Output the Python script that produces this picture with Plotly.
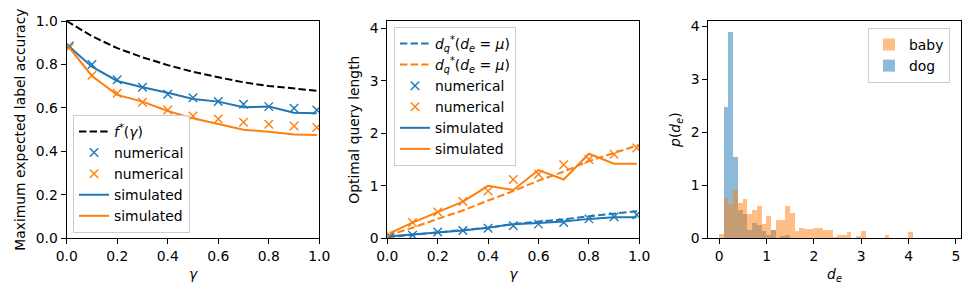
import numpy as np
import plotly.graph_objects as go

BLUE = "#1f77b4"
ORANGE = "#ff7f0e"

# ---------------- Panel 1 data ----------------
gamma_pts = [0.01, 0.1, 0.2, 0.3, 0.4, 0.5, 0.6, 0.7, 0.8, 0.9, 0.99]
gamma_curve = [0.0, 0.1, 0.2, 0.3, 0.4, 0.5, 0.6, 0.7, 0.8, 0.9, 1.0]
f_star = [1.0, 0.93, 0.875, 0.833, 0.797, 0.766, 0.741, 0.718, 0.701, 0.689, 0.678]
acc_num_dog = [0.885, 0.80, 0.73, 0.695, 0.663, 0.647, 0.63, 0.617, 0.606, 0.598, 0.59]
acc_num_baby = [0.877, 0.75, 0.667, 0.626, 0.59, 0.563, 0.549, 0.534, 0.525, 0.517, 0.51]
acc_sim_dog = [0.882, 0.79, 0.724, 0.695, 0.67, 0.641, 0.629, 0.603, 0.606, 0.578, 0.575]
acc_sim_baby = [0.877, 0.747, 0.66, 0.629, 0.586, 0.552, 0.526, 0.50, 0.49, 0.478, 0.475]

# ---------------- Panel 2 data ----------------
dq_theory_dog = [0.02, 0.07, 0.12, 0.16, 0.20, 0.27, 0.32, 0.36, 0.42, 0.47, 0.52]
dq_theory_baby = [0.05, 0.20, 0.37, 0.53, 0.72, 0.90, 1.10, 1.27, 1.47, 1.62, 1.78]
dq_num_dog = [0.03, 0.06, 0.12, 0.15, 0.19, 0.24, 0.27, 0.30, 0.37, 0.41, 0.45]
dq_num_baby = [0.06, 0.30, 0.50, 0.70, 0.90, 1.12, 1.22, 1.40, 1.50, 1.60, 1.72]
dq_sim_dog = [0.04, 0.07, 0.11, 0.15, 0.20, 0.27, 0.29, 0.32, 0.37, 0.40, 0.40]
dq_sim_baby = [0.10, 0.30, 0.50, 0.70, 1.00, 0.92, 1.30, 1.12, 1.61, 1.42, 1.42]

# ---------------- Panel 3 data (histogram densities, bins of width 0.1 from 0) ----------------
hist_bin_start = 0.0
hist_bin_width = 0.1
dens_baby = [0.08, 0.76, 0.65, 0.91, 0.67, 0.74, 0.46, 0.54, 0.61, 0.27,
             0.42, 0.16, 0.35, 0.35, 0.61, 0.47, 0.14, 0.20, 0.18, 0.17,
             0.19, 0.19, 0.15, 0.16, 0.03, 0.06, 0.06, 0.12, 0.0, 0.05,
             0.13, 0.0, 0.0, 0.0, 0.0, 0.06, 0.0, 0.0, 0.0, 0.0, 0.12]
dens_dog = [0.0, 2.47, 3.90, 1.53, 0.53, 0.46, 0.16, 0.28, 0.25, 0.13,
            0.06, 0.16, 0.0, 0.04, 0.06]

def centers(n):
    return hist_bin_start + hist_bin_width * (np.arange(n) + 0.5)

FONT = "DejaVu Sans"
FS = 13.9
LW = 2.0
DASH = "7.4px,3.2px"
fig = go.Figure()

xmark = lambda c: dict(symbol="x-thin", size=8.5, line=dict(color=c, width=1.4), color=c)

# panel 1
fig.add_trace(go.Scatter(x=gamma_curve, y=f_star, mode="lines",
                         line=dict(color="black", dash=DASH, width=LW),
                         name="<i>f</i><sup>*</sup>(<i>γ</i>)", xaxis="x", yaxis="y", legend="legend"))
fig.add_trace(go.Scatter(x=gamma_pts, y=acc_num_dog, mode="markers", marker=xmark(BLUE),
                         name="numerical", xaxis="x", yaxis="y", legend="legend"))
fig.add_trace(go.Scatter(x=gamma_pts, y=acc_num_baby, mode="markers", marker=xmark(ORANGE),
                         name="numerical", xaxis="x", yaxis="y", legend="legend"))
fig.add_trace(go.Scatter(x=gamma_pts, y=acc_sim_dog, mode="lines",
                         line=dict(color=BLUE, width=LW),
                         name="simulated", xaxis="x", yaxis="y", legend="legend"))
fig.add_trace(go.Scatter(x=gamma_pts, y=acc_sim_baby, mode="lines",
                         line=dict(color=ORANGE, width=LW),
                         name="simulated", xaxis="x", yaxis="y", legend="legend"))

# panel 2
dq_label = "<i>d</i><sub><i>q</i></sub><sup>*</sup>(<i>d</i><sub><i>e</i></sub> = <i>μ</i>)"
fig.add_trace(go.Scatter(x=gamma_curve, y=dq_theory_dog, mode="lines",
                         line=dict(color=BLUE, dash=DASH, width=LW),
                         name=dq_label, xaxis="x2", yaxis="y2", legend="legend2"))
fig.add_trace(go.Scatter(x=gamma_curve, y=dq_theory_baby, mode="lines",
                         line=dict(color=ORANGE, dash=DASH, width=LW),
                         name=dq_label, xaxis="x2", yaxis="y2", legend="legend2"))
fig.add_trace(go.Scatter(x=gamma_pts, y=dq_num_dog, mode="markers", marker=xmark(BLUE),
                         name="numerical", xaxis="x2", yaxis="y2", legend="legend2"))
fig.add_trace(go.Scatter(x=gamma_pts, y=dq_num_baby, mode="markers", marker=xmark(ORANGE),
                         name="numerical", xaxis="x2", yaxis="y2", legend="legend2"))
fig.add_trace(go.Scatter(x=gamma_pts, y=dq_sim_dog, mode="lines",
                         line=dict(color=BLUE, width=LW),
                         name="simulated", xaxis="x2", yaxis="y2", legend="legend2"))
fig.add_trace(go.Scatter(x=gamma_pts, y=dq_sim_baby, mode="lines",
                         line=dict(color=ORANGE, width=LW),
                         name="simulated", xaxis="x2", yaxis="y2", legend="legend2"))

# panel 3 (dog drawn first, baby on top; legend lists baby first)
fig.add_trace(go.Bar(x=centers(len(dens_dog)), y=dens_dog, width=hist_bin_width,
                     marker=dict(color=BLUE, line=dict(width=0)), opacity=0.5,
                     name="dog", xaxis="x3", yaxis="y3", legend="legend3", legendrank=2))
fig.add_trace(go.Bar(x=centers(len(dens_baby)), y=dens_baby, width=hist_bin_width,
                     marker=dict(color=ORANGE, line=dict(width=0)), opacity=0.5,
                     name="baby", xaxis="x3", yaxis="y3", legend="legend3", legendrank=1))

# The page body has an 8px margin; work in screen pixels and shift.
OFF = 8
W, H = 975 - OFF, 300 - OFF
def xd(a, b):
    return [(a - OFF) / W, (b - OFF) / W]
def yp(y):
    return (H - (y - OFF)) / H
ydom = [yp(238.3), yp(21)]

axis_common = dict(showline=True, linecolor="black", linewidth=1.1, mirror=True,
                   ticks="outside", ticklen=5, tickwidth=1.1, tickcolor="black",
                   showgrid=False, zeroline=False, automargin=False,
                   tickfont=dict(family=FONT, size=FS, color="black"))
title_font = dict(family=FONT, size=FS, color="black")

legend_common = dict(bgcolor="rgba(255,255,255,0.8)", bordercolor="#cccccc", borderwidth=1,
                     font=dict(family=FONT, size=FS, color="black"),
                     xanchor="left", yanchor="top", tracegroupgap=0, itemwidth=30)

fig.update_layout(
    width=W, height=H, margin=dict(l=0, r=0, t=0, b=0),
    plot_bgcolor="white", paper_bgcolor="white",
    barmode="overlay", bargap=0,
    font=dict(family=FONT, size=FS, color="black"),
    xaxis=dict(domain=xd(66.7, 319.3), range=[0, 1], tickvals=[0, 0.2, 0.4, 0.6, 0.8, 1.0],
               tickformat=".1f", anchor="y",
               title=dict(text="<i>γ</i>", font=title_font, standoff=6), **axis_common),
    yaxis=dict(domain=ydom, range=[0, 1], tickvals=[0, 0.2, 0.4, 0.6, 0.8, 1.0], tickformat=".1f",
               anchor="x", title=dict(text="Maximum expected label accuracy", font=title_font, standoff=6),
               **axis_common),
    xaxis2=dict(domain=xd(387.3, 639.3), range=[0, 1], tickvals=[0, 0.2, 0.4, 0.6, 0.8, 1.0],
                tickformat=".1f", anchor="y2",
                title=dict(text="<i>γ</i>", font=title_font, standoff=6), **axis_common),
    yaxis2=dict(domain=ydom, range=[0, 4.14], tickvals=[0, 1, 2, 3, 4], anchor="x2",
                title=dict(text="Optimal query length", font=title_font, standoff=6), **axis_common),
    xaxis3=dict(domain=xd(708.3, 960.7), range=[-0.23, 5.1], tickvals=[0, 1, 2, 3, 4, 5], anchor="y3",
                title=dict(text="<i>d</i><sub><i>e</i></sub>", font=title_font, standoff=6), **axis_common),
    yaxis3=dict(domain=ydom, range=[0, 4.1], tickvals=[0, 1, 2, 3, 4], anchor="x3",
                title=dict(text="<i>p</i>(<i>d</i><sub><i>e</i></sub>)", font=title_font, standoff=6),
                **axis_common),
    legend=dict(x=(73 - OFF) / W, y=yp(115), **legend_common),
    legend2=dict(x=(394 - OFF) / W, y=yp(27), **legend_common),
    legend3=dict(x=(868 - OFF) / W, y=yp(28), **legend_common),
)

fig.write_html("out.html")
